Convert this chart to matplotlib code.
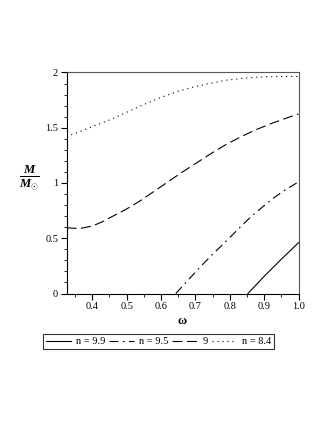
import numpy as np
import matplotlib
matplotlib.use("Agg")
import matplotlib.pyplot as plt

plt.rcParams['font.family'] = ['Liberation Serif', 'DejaVu Serif']
plt.rcParams['mathtext.fontset'] = 'custom'
plt.rcParams['mathtext.it'] = 'Liberation Serif:italic:bold'
plt.rcParams['mathtext.rm'] = 'Liberation Serif:bold'
plt.rcParams['mathtext.bf'] = 'Liberation Serif:bold'

# n = 8.4 (dotted)
w_84 = [0.325, 0.36, 0.40, 0.45, 0.50, 0.55, 0.60, 0.65, 0.69, 0.74, 0.79, 0.84, 0.88, 0.93, 0.97, 1.00]
m_84 = [1.42, 1.46, 1.51, 1.57, 1.64, 1.71, 1.775, 1.83, 1.865, 1.90, 1.93, 1.948, 1.958, 1.963, 1.964, 1.964]
# n = 9 (dashed)
w_9 = [0.325, 0.35, 0.37, 0.40, 0.43, 0.46, 0.50, 0.54, 0.58, 0.62, 0.66, 0.71, 0.75, 0.79, 0.84, 0.88, 0.92, 0.96, 1.00]
m_9 = [0.595, 0.59, 0.592, 0.61, 0.65, 0.70, 0.765, 0.84, 0.925, 1.01, 1.095, 1.195, 1.275, 1.35, 1.43, 1.487, 1.537, 1.582, 1.625]
# n = 9.5 (dash-dot)
w_95 = [0.643, 0.68, 0.71, 0.75, 0.79, 0.83, 0.86, 0.90, 0.93, 0.96, 1.00]
m_95 = [0.0, 0.125, 0.227, 0.355, 0.475, 0.60, 0.69, 0.795, 0.87, 0.935, 1.01]
# n = 9.9 (solid)
w_99 = [0.853, 0.90, 0.95, 1.00]
m_99 = [0.0, 0.155, 0.31, 0.46]

labels = ['n = 9.9', 'n = 9.5', '9', 'n = 8.4']

fig = plt.figure(figsize=(3.27, 4.23), dpi=100)
ax = fig.add_axes([66.5/327, 1 - 293.5/423, (298.5 - 66.5)/327, (293.5 - 72.5)/423])

lw = 0.8
l1, = ax.plot(w_99, m_99, color='black', lw=lw, ls='-')
l2, = ax.plot(w_95, m_95, color='black', lw=lw, ls=(0, (8, 4, 1.5, 4)))
l3, = ax.plot(w_9, m_9, color='black', lw=lw, ls=(0, (9, 4)))
l4, = ax.plot(w_84, m_84, color='black', lw=lw, ls=(0, (1, 3.5)))

ax.set_xlim(0.325, 1.0)
ax.set_ylim(0, 2)
ax.set_xticks([0.4, 0.5, 0.6, 0.7, 0.8, 0.9, 1.0])
ax.set_xticklabels(['0.4', '0.5', '0.6', '0.7', '0.8', '0.9', '1.0'])
ax.set_yticks([0, 0.5, 1, 1.5, 2])
ax.set_yticklabels(['0', '0.5', '1', '1.5', '2'])
ax.set_xticks(np.arange(0.35, 1.0, 0.05), minor=True)
ax.set_yticks(np.arange(0.1, 2.0, 0.1), minor=True)
ax.tick_params(axis='both', which='major', labelsize=7.5, length=4, width=0.8, direction='out', pad=2)
ax.tick_params(axis='both', which='minor', length=2, width=0.6, direction='out')
for s in ax.spines.values():
    s.set_linewidth(0.8)
for s in ['top', 'right']:
    ax.spines[s].set_color('#555555')

ax.set_xlabel(r'$\mathbf{\omega}$', fontsize=9, labelpad=3)
fig.text(29/327, 1 - 178/423, r'$\frac{M}{M_{\odot}}$', fontsize=13, ha='center', va='center')

leg = fig.legend([l1, l2, l3, l4], labels, loc='center', bbox_to_anchor=(158.5/327, 1 - 341.5/423),
                 ncol=4, fontsize=7.5, frameon=True, fancybox=False, edgecolor='black',
                 handlelength=2.4, handletextpad=0.5, columnspacing=0.35, borderpad=0.25,
                 borderaxespad=0)
leg.get_frame().set_linewidth(0.8)

fig.savefig('out.png', dpi=100)
